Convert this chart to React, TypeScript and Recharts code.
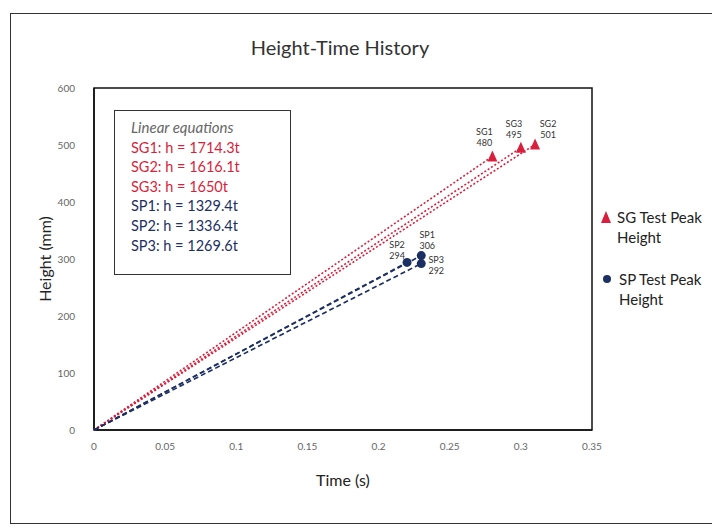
import { ScatterChart, Scatter, XAxis, YAxis, ReferenceArea } from "recharts";

const sgNames = ["SG1", "SG2", "SG3"];
const sgTimes = [0.28, 0.31, 0.3];
const sgHeights = [480, 501, 495];

const spNames = ["SP1", "SP2", "SP3"];
const spTimes = [0.23, 0.22, 0.23];
const spHeights = [306, 294, 292];

const xTicks = [0, 0.05, 0.1, 0.15, 0.2, 0.25, 0.3, 0.35];
const yTicks = [0, 100, 200, 300, 400, 500, 600];

const sgEquations = ["SG1: h = 1714.3t", "SG2: h = 1616.1t", "SG3: h = 1650t"];
const spEquations = ["SP1: h = 1329.4t", "SP2: h = 1336.4t", "SP3: h = 1269.6t"];

const RED = "#d91f3c";
const NAVY = "#1c2f63";
const FONT = "Lato, 'Noto Sans', sans-serif";

// label offsets relative to the marker, [dx, baseline dy of first line]
const labelPos: Record<string, [number, number]> = {
  SG1: [-8, -21],
  SG2: [13, -17],
  SG3: [-7, -21],
  SP1: [6, -18],
  SP2: [-10, -14],
  SP3: [15, -1],
};

const makeShape = (kind: "sg" | "sp") => (props: any) => {
  const { cx, cy, payload } = props;
  if (!payload || payload.x === 0) return <g />;
  const [dx, dy] = labelPos[payload.name] || [0, -20];
  const color = kind === "sg" ? RED : NAVY;
  return (
    <g>
      {kind === "sg" ? (
        <polygon
          points={`${cx},${cy - 6} ${cx - 5},${cy + 5} ${cx + 5},${cy + 5}`}
          fill={color}
        />
      ) : (
        <circle cx={cx} cy={cy} r={4.5} fill={color} />
      )}
      <text x={cx + dx} y={cy + dy} textAnchor="middle" fontSize={9} fill="#333" fontFamily={FONT}>
        {payload.name}
      </text>
      <text x={cx + dx} y={cy + dy + 11} textAnchor="middle" fontSize={9} fill="#333" fontFamily={FONT}>
        {payload.value}
      </text>
    </g>
  );
};

const sgShape = makeShape("sg");
const spShape = makeShape("sp");

export default function App() {
  return (
    <div style={{ position: "relative", width: 712, height: 520, fontFamily: FONT }}>
      <div
        style={{
          position: "absolute",
          left: 2,
          top: 5,
          width: 705,
          height: 509,
          border: "1.5px solid #333",
        }}
      />
      <div
        style={{
          position: "absolute",
          left: 0,
          top: 27,
          width: 664,
          textAlign: "center",
          fontSize: 20,
          lineHeight: "24px",
          color: "#333",
        }}
      >
        Height-Time History
      </div>

      <ScatterChart
        width={712}
        height={520}
        margin={{ top: 80, right: 128, bottom: 68, left: 46 }}
        style={{ position: "absolute", left: 0, top: 0 }}
      >
        <XAxis
          type="number"
          dataKey="x"
          domain={[0, 0.35]}
          ticks={xTicks}
          tickFormatter={(v: number) => String(v)}
          tickLine={false}
          tickMargin={7}
          axisLine={{ stroke: "#111", strokeWidth: 1.5 }}
          tick={{ fontSize: 10, fill: "#666", fontFamily: FONT }}
          height={30}
          label={{
            value: "Time (s)",
            position: "bottom",
            offset: 15,
            style: { fontSize: 16, fill: "#222", fontFamily: FONT },
          }}
        />
        <YAxis
          type="number"
          dataKey="y"
          domain={[0, 600]}
          ticks={yTicks}
          tickLine={false}
          tickMargin={13}
          axisLine={{ stroke: "#111", strokeWidth: 1.5 }}
          tick={{ fontSize: 10, fill: "#666", fontFamily: FONT }}
          width={40}
          label={{
            value: "Height (mm)",
            angle: -90,
            position: "left",
            offset: 9,
            style: { fontSize: 16, fill: "#222", fontFamily: FONT, textAnchor: "middle" },
          }}
        />
        <ReferenceArea x1={0} x2={0.35} y1={0} y2={600} fill="none" stroke="#111" strokeWidth={1.5} />
        {sgNames.map((n, i) => (
          <Scatter
            key={n}
            data={[
              { x: 0, y: 0, name: n, value: 0 },
              { x: sgTimes[i], y: sgHeights[i], name: n, value: sgHeights[i] },
            ]}
            line={{ stroke: RED, strokeWidth: 1.6, strokeDasharray: "2 2" }}
            lineType="joint"
            shape={sgShape}
            isAnimationActive={false}
          />
        ))}
        {spNames.map((n, i) => (
          <Scatter
            key={n}
            data={[
              { x: 0, y: 0, name: n, value: 0 },
              { x: spTimes[i], y: spHeights[i], name: n, value: spHeights[i] },
            ]}
            line={{ stroke: NAVY, strokeWidth: 1.6, strokeDasharray: "5 3" }}
            lineType="joint"
            shape={spShape}
            isAnimationActive={false}
          />
        ))}
      </ScatterChart>

      <div
        style={{
          position: "absolute",
          left: 106,
          top: 102,
          width: 177,
          height: 165,
          border: "1.5px solid #333",
          background: "#fff",
          paddingLeft: 16,
          paddingTop: 7,
          boxSizing: "border-box",
          fontSize: 14.5,
          lineHeight: "19.6px",
        }}
      >
        <div style={{ fontStyle: "italic", color: "#666", fontSize: 15 }}>Linear equations</div>
        {sgEquations.map((e) => (
          <div key={e} style={{ color: RED }}>{e}</div>
        ))}
        {spEquations.map((e) => (
          <div key={e} style={{ color: NAVY }}>{e}</div>
        ))}
      </div>

      <svg style={{ position: "absolute", left: 592, top: 202 }} width={12} height={14}>
        <polygon points="6,1 1,13 11,13" fill={RED} />
      </svg>
      <div style={{ position: "absolute", left: 609, top: 199, fontSize: 15, lineHeight: "20px", color: "#222" }}>
        SG Test Peak
        <br />
        Height
      </div>
      <svg style={{ position: "absolute", left: 594, top: 266 }} width={10} height={10}>
        <circle cx={5} cy={5} r={4} fill={NAVY} />
      </svg>
      <div style={{ position: "absolute", left: 611, top: 261, fontSize: 15, lineHeight: "20px", color: "#222" }}>
        SP Test Peak
        <br />
        Height
      </div>
    </div>
  );
}
